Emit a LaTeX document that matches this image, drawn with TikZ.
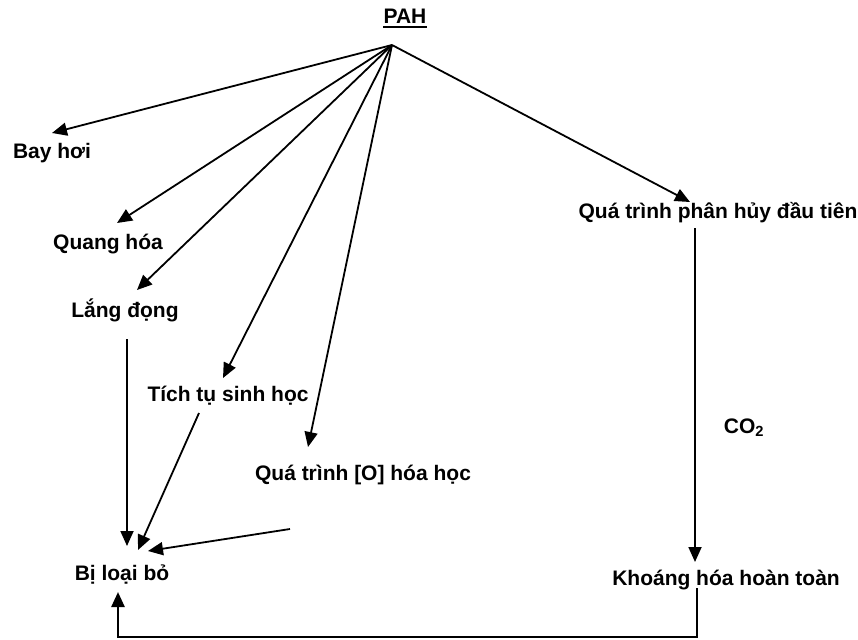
\documentclass[tikz,border=0pt]{standalone}
\usepackage{fontspec}
\setmainfont{Liberation Sans}
\usetikzlibrary{arrows.meta}
\begin{document}
\begin{tikzpicture}[x=1pt,y=-1pt,
  lbl/.style={font=\fontsize{21}{25}\selectfont\bfseries, anchor=base, inner sep=0pt},
  conn/.style={line width=1.8pt, -{Triangle[length=15pt,width=13pt]}},
  plainline/.style={line width=1.8pt},
  loopline/.style={line width=2.5pt, -{Triangle[length=15pt,width=13pt]}}]
\useasboundingbox (0,0) rectangle (858,639);
% labels
\node[lbl] (pah) at (405,24) {PAH};
\node[lbl] (bay) at (52,159) {Bay hơi};
\node[lbl] (quang) at (108,249) {Quang hóa};
\node[lbl] (lang) at (125,317) {Lắng đọng};
\node[lbl] (tich) at (228,401) {Tích tụ sinh học};
\node[lbl] (oxh) at (363,480) {Quá trình [O] hóa học};
\node[lbl] (phan) at (718,218) {Quá trình phân hủy đầu tiên};
\node[lbl] (co) at (744,433) {CO\textsubscript{2}};
\node[lbl] (khoang) at (726,585) {Khoáng hóa hoàn toàn};
\node[lbl] (loai) at (122,580) {Bị loại bỏ};
\draw[line width=2.2pt] ([yshift=-3pt]pah.base west) -- ([yshift=-3pt]pah.base east);
% coordinates
\coordinate (apex) at (392,45);
\coordinate (bayT) at (52,133);
\coordinate (quangT) at (117,223);
\coordinate (langT) at (137,290);
\coordinate (tichT) at (223,378);
\coordinate (oxhT) at (308,447);
\coordinate (phanT) at (690,202);
\coordinate (phanS) at (695,228);
\coordinate (khoangT) at (695,562);
\coordinate (langS) at (127,339);
\coordinate (loaiT1) at (127,546);
\coordinate (tichS) at (199,413);
\coordinate (loaiT2) at (138,550);
\coordinate (oxhS) at (290,529);
\coordinate (loaiT3) at (148,551);
\coordinate (khoangS) at (697,588);
\coordinate (loaiT4) at (118,592);
% connectors
\draw[conn] (apex) -- (bayT);
\draw[conn] (apex) -- (quangT);
\draw[conn] (apex) -- (langT);
\draw[conn] (apex) -- (tichT);
\draw[conn] (apex) -- (oxhT);
\draw[conn] (apex) -- (phanT);
\draw[conn] (phanS) -- (khoangT);
\draw[conn] (langS) -- (loaiT1);
\draw[conn] (tichS) -- (loaiT2);
\draw[conn] (oxhS) -- (loaiT3);
\draw[loopline] (khoangS) -- (697,637) -- (118,637) -- (loaiT4);
\end{tikzpicture}
\end{document}
